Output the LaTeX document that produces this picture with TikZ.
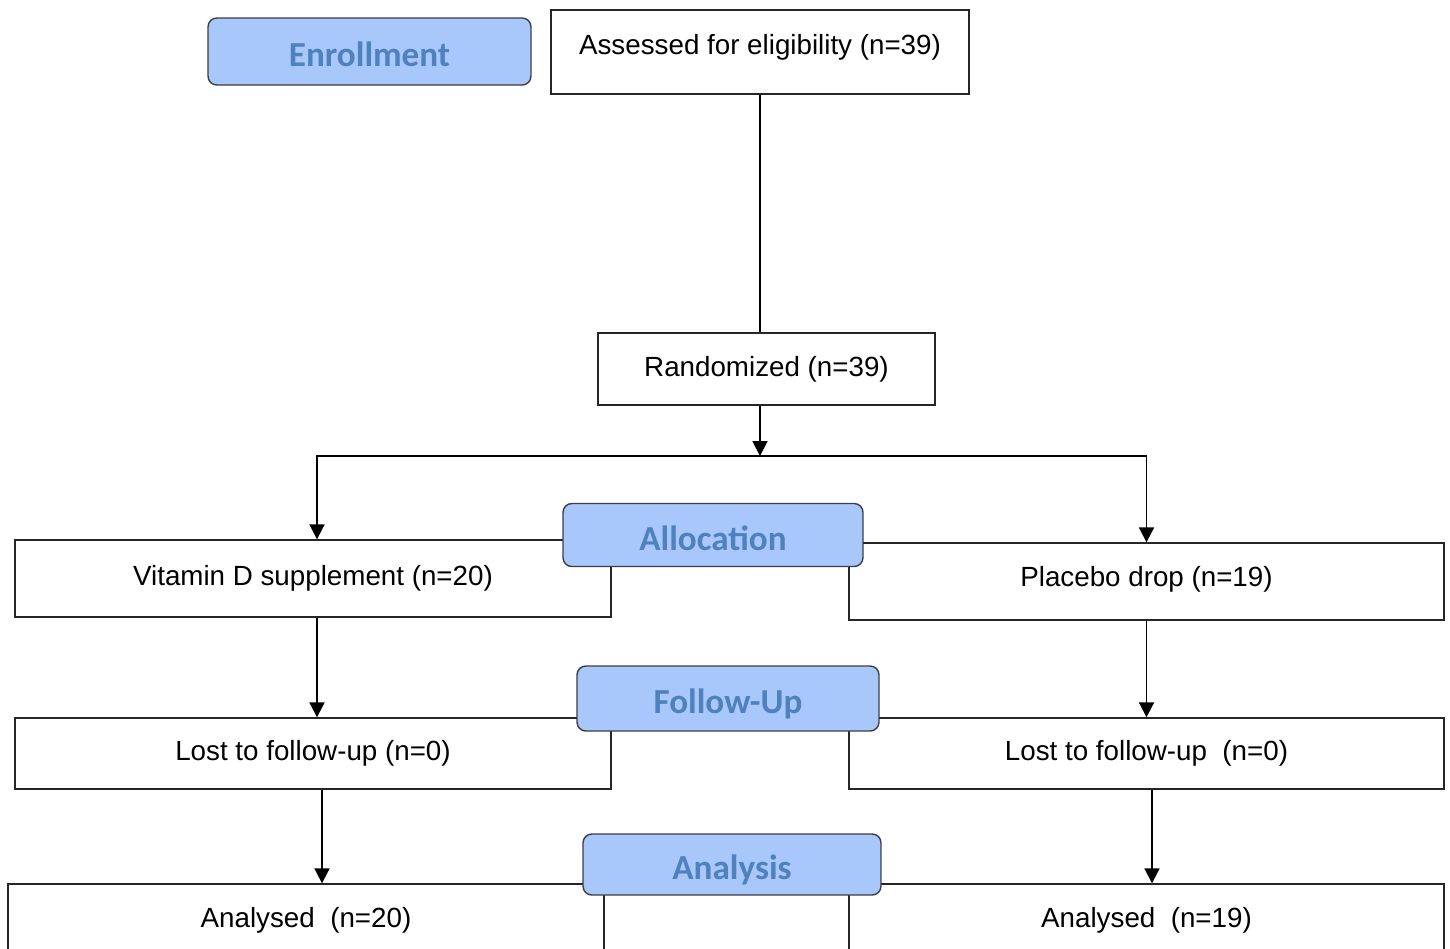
\documentclass[tikz,border=0pt]{standalone}
\usepackage{fontspec}
\setmainfont{Liberation Sans}
\newfontfamily\phasefont{Carlito}
\usepackage{xcolor}
\usetikzlibrary{arrows.meta, positioning, calc}

\definecolor{phasefill}{RGB}{168,199,250}
\definecolor{phasetext}{RGB}{79,129,189}
\definecolor{phaseline}{RGB}{60,62,72}

\begin{document}
\begin{tikzpicture}[
    x=0.02cm, y=-0.02cm,
    box/.style={rectangle, draw=black!85, fill=white, line width=0.8pt, minimum width=11.92cm, minimum height=1.44cm, align=center, font=\fontsize{15.8}{18}\selectfont},
    phase/.style={rectangle, draw=phaseline, fill=phasefill, line width=0.8pt, rounded corners=5pt, minimum width=6cm, minimum height=1.26cm, align=center, text=phasetext, text height=17.5pt, text depth=0pt, font=\phasefont\bfseries\fontsize{20}{23}\selectfont},
    arrow/.style={-{Triangle[width=8.5pt, length=8.5pt]}, line width=1.1pt, draw=black},
    link/.style={line width=1.1pt, draw=black}
]
\clip (0,0) rectangle (1450,948);
\fill[white] (0,0) rectangle (1450,948);

% Top: eligibility and randomization
\node[box, minimum width=8.36cm, minimum height=1.68cm, text depth=0.32cm] (assess) at (760,52) {Assessed for eligibility (n=39)};
\node[box, minimum width=6.74cm, minimum height=1.44cm] (rand) at (766.5,369) {Randomized (n=39)};
\coordinate (split) at (760,456);

% Allocation row
\node[box, minimum height=1.54cm] (vitd) at (313,578.5) {Vitamin D supplement (n=20)};
\node[box, minimum width=11.9cm, minimum height=1.54cm, text depth=0.2cm] (plac) at (1146.5,581.5) {Placebo drop (n=19)};

% Follow-up row
\node[box, minimum height=1.42cm] (lostA) at (313,753.5) {Lost to follow-up (n=0)};
\node[box, minimum width=11.9cm, minimum height=1.42cm] (lostB) at (1146.5,753.5) {Lost to follow-up\ \ (n=0)};

% Analysis row
\node[box] (anA) at (306,920) {Analysed\ \ (n=20)};
\node[box, minimum width=11.9cm] (anB) at (1146.5,920) {Analysed\ \ (n=19)};

% Phase labels
\node[phase, minimum width=6.46cm, minimum height=1.34cm] (enroll) at (369.5,51.5) {Enrollment};
\node[phase] (alloc) at (713,535) {Allocation};
\node[phase, minimum width=6.04cm, minimum height=1.3cm] (follow) at (728,698.5) {Follow-Up};
\node[phase, minimum width=5.96cm, minimum height=1.22cm] (analysis) at (732,864.5) {Analysis};

% Connectors
\draw[link] (assess.south) -- (assess.south |- rand.north);
\draw[arrow] (assess.south |- rand.south) -- (split);
\draw[arrow] (split) -| ([xshift=0.08cm]vitd.north);
\draw[arrow] (split) -| (plac.north);
\draw[arrow] ([xshift=0.08cm]vitd.south) -- ([xshift=0.08cm]vitd.south |- lostA.north);
\draw[arrow] (plac.south) -- (plac.south |- lostB.north);
\draw[arrow] ([xshift=0.18cm]lostA.south) -- ([xshift=0.18cm]lostA.south |- anA.north);
\draw[arrow] ([xshift=0.11cm]lostB.south) -- ([xshift=0.11cm]lostB.south |- anB.north);

\end{tikzpicture}
\end{document}
